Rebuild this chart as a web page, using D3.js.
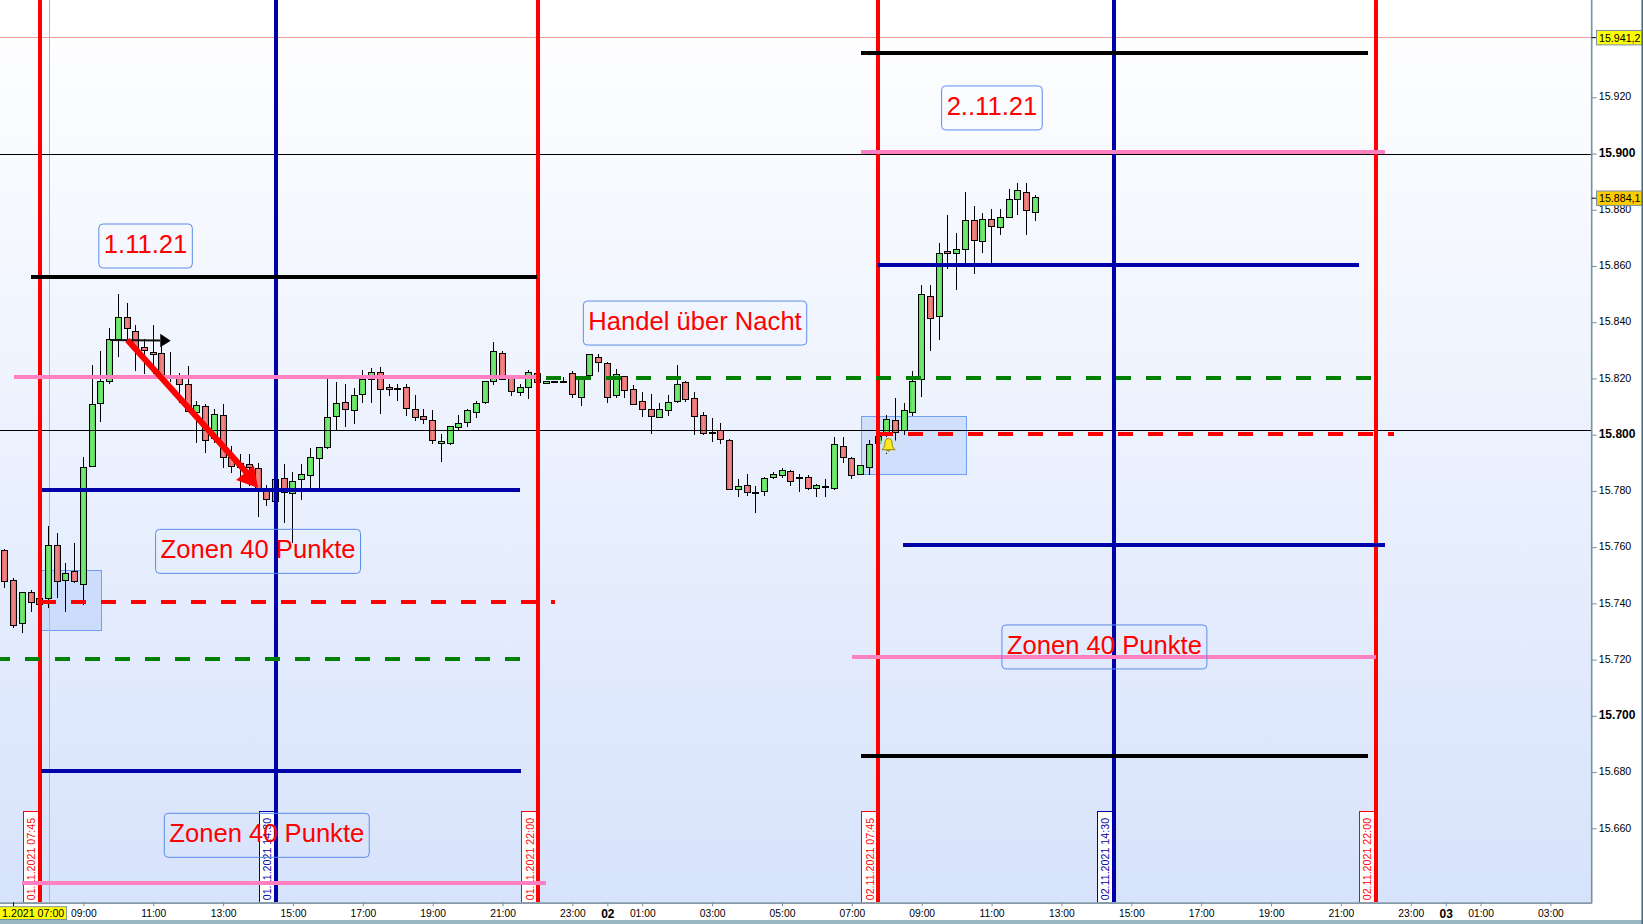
<!DOCTYPE html>
<html>
<head>
<meta charset="utf-8">
<title>FDAX 15 Minuten</title>
<script src="https://cdn.jsdelivr.net/npm/d3@7"></script>
<style>
html,body{margin:0;padding:0;background:#fff;overflow:hidden}
text{font-family:"Liberation Sans",Arial,sans-serif}
</style>
</head>
<body>
<svg id="c" width="1643" height="924"></svg>
<script>
// ---- data: 15-minute candles, first bar 01.11.2021 06:45 ----
const firstBarHour = 6.75;
const barHours = 0.25;
const opens = [15758.9,15748.2,15732.9,15743.9,15741.8,15741.8,15760.6,15748.2,15751.4,15746.8,15788.7,15811.1,15819.0,15833.9,15841.7,15836.7,15831.0,15829.3,15828.9,15820.1,15820.0,15817.9,15807.9,15810.1,15798.7,15806.9,15791.9,15788.4,15789.4,15788.0,15780.3,15776.3,15784.5,15779.1,
15784.1,15785.6,15791.6,15795.4,15806.5,15811.5,15808.7,15814.4,15819.7,15822.2,15816.9,15816.5,15816.9,15809.0,15806.5,15805.1,15796.9,15796.9,15802.6,15804.4,15808.0,15811.5,15819.0,15828.9,15820.6,15815.1,15816.9,15821.8,15818.3,15819.0,
15818.9,15821.8,15813.3,15821.1,15827.5,15825.3,15814.0,15820.7,15816.1,15811.8,15809.0,15806.1,15808.6,15811.8,15818.6,15812.9,15806.9,15800.9,15801.5,15798.0,15780.5,15782.0,15779.5,15779.8,15784.8,15785.5,15786.9,15784.8,15784.8,15780.9,15781.6,
15780.9,15795.8,15791.6,15785.9,15788.4,15796.7,15800.5,15805.1,15801.5,15807.9,15819.7,15849.2,15842.1,15865.2,15864.5,15865.9,15876.2,15868.7,15876.6,15873.7,15877.3,15883.7,15886.2,15879.0];
const highs = [15759.2,15748.9,15743.9,15744.8,15741.8,15767.5,15764.9,15754.2,15761.3,15791.9,15824.7,15829.6,15837.8,15849.9,15847.0,15838.9,15833.9,15838.9,15833.7,15829.3,15821.8,15824.3,15811.9,15810.8,15809.0,15810.8,15796.0,15793.3,15793.1,15789.8,15782.1,15784.5,15789.6,15786.7,
15789.5,15795.2,15795.5,15819.7,15818.8,15817.9,15816.5,15823.0,15823.6,15824.1,15817.9,15817.9,15817.9,15814.1,15809.1,15808.8,15800.1,15803.0,15806.9,15809.0,15811.9,15819.0,15832.9,15829.7,15821.0,15817.9,15822.9,15821.8,15819.0,15819.0,
15820.4,15822.5,15820.6,15828.5,15828.7,15825.7,15823.2,15820.7,15817.5,15815.0,15814.3,15811.1,15814.0,15824.8,15819.1,15815.0,15807.9,15806.1,15804.0,15798.3,15784.4,15785.9,15781.6,15784.8,15786.6,15788.0,15787.3,15785.9,15785.5,15782.3,15784.1,
15799.0,15799.0,15792.2,15789.1,15798.1,15799.5,15806.9,15812.9,15811.1,15822.5,15853.1,15853.1,15868.0,15878.0,15871.9,15886.2,15881.2,15879.0,15880.1,15880.1,15887.2,15889.4,15889.4,15885.1];
const lows = [15745.4,15731.1,15729.3,15736.8,15739.6,15738.5,15741.8,15736.8,15747.1,15739.3,15788.7,15804.6,15817.9,15827.7,15833.9,15822.7,15821.4,15821.4,15820.4,15818.8,15811.1,15808.3,15796.9,15793.6,15796.9,15788.0,15786.2,15780.9,15781.7,15770.8,15774.6,15776.3,15768.5,15761.3,
15776.6,15780.9,15780.9,15794.9,15801.6,15802.9,15803.8,15811.2,15811.2,15807.5,15813.9,15811.8,15806.8,15804.8,15803.9,15796.8,15790.4,15796.5,15801.6,15802.9,15806.1,15811.0,15817.8,15819.3,15813.9,15813.9,15812.8,15818.6,15818.3,15818.6,
15818.6,15813.1,15810.3,15821.1,15822.4,15811.4,15813.1,15813.1,15810.8,15806.4,15800.2,15806.1,15806.7,15811.4,15811.7,15800.0,15800.0,15797.5,15796.8,15780.5,15777.9,15778.3,15772.2,15778.3,15784.3,15784.7,15781.8,15779.7,15780.4,15777.9,15777.9,
15780.3,15790.0,15784.1,15785.5,15785.5,15796.7,15793.0,15797.5,15799.9,15806.6,15813.5,15829.9,15833.8,15859.0,15851.4,15860.9,15857.2,15864.7,15860.9,15871.1,15877.3,15878.2,15871.1,15876.1];
const closes = [15747.9,15732.2,15743.9,15740.4,15739.6,15760.6,15747.9,15750.7,15747.9,15788.4,15810.8,15819.0,15833.9,15841.7,15837.8,15830.3,15830.0,15828.6,15820.6,15821.1,15817.9,15808.3,15810.4,15798.0,15807.2,15791.9,15788.7,15789.8,15788.4,15780.3,15777.0,15784.1,15779.5,15783.4,
15785.9,15792.0,15795.5,15806.2,15811.2,15809.0,15814.0,15819.7,15822.2,15816.1,15816.1,15816.1,15809.4,15806.2,15805.5,15798.0,15797.7,15803.0,15804.1,15808.7,15811.2,15819.0,15829.7,15819.7,15815.4,15816.9,15822.2,15818.6,15819.0,15818.6,
15818.6,15814.3,15820.6,15828.5,15825.7,15813.3,15821.4,15815.7,15810.8,15809.0,15806.5,15809.0,15811.5,15817.9,15812.5,15806.5,15800.5,15800.7,15798.3,15780.5,15781.6,15779.5,15779.1,15784.4,15785.9,15787.3,15783.4,15784.4,15780.9,15782.0,15781.6,
15796.5,15791.9,15785.5,15789.1,15796.5,15799.5,15805.4,15800.8,15808.6,15818.9,15849.9,15841.3,15864.5,15864.5,15865.9,15876.2,15869.1,15876.6,15874.1,15877.3,15883.7,15886.9,15879.8,15884.4];

// horizontal levels (hours counted from 01.11.2021 00:00)
const levelPrices = [15856.2,15820.6,15780.3,15740.6,15720.2,15680.4,15640.7,15935.9,15900.4,15860.3,15820.3,15800.1,15760.6,15720.9,15685.7];
const levelStarts = [7.5,7.01,7.81,7.78,6.47,7.79,7.24,31.26,31.26,31.75,22.24,31.75,32.47,31.0,31.26];
const levelEnds   = [21.98,21.96,21.5,22.5,21.53,21.53,22.24,45.78,46.27,45.52,45.92,46.52,46.27,46.0,45.78];
const levelKinds  = ["black","pink","blue","redDash","greenDash","blue","pink","black","pink","blue","greenDash","redDash","blue","pink","black"];

const sessionHours  = [7.75,14.5,22.02,31.75,38.5,46];
const sessionLabels = ["01.11.2021 07:45","01.11.2021 14:30","01.11.2021 22:00","02.11.2021 07:45","02.11.2021 14:30","02.11.2021 22:00"];
const sessionKinds  = ["red","blue","red","red","blue","red"];

const zoneHourStart = [7.81,31.27];
const zoneHourEnd   = [9.51,34.29];
const zoneTop       = [15751.8,15806.5];
const zoneBottom    = [15730.5,15785.9];

const noteTexts = ["1.11.21","Zonen 40 Punkte","Zonen 40 Punkte","Handel über Nacht","2..11.21","Zonen 40 Punkte"];
const noteHours = [10.78,14.0,14.25,26.51,35.01,38.23];
const notePrices = [15867.1,15758.5,15657.5,15839.7,15916.2,15724.5];

const xTickHours = [9,11,13,15,17,19,21,23,24,25,27,29,31,33,35,37,39,41,43,45,47,48,49,51];
const yTickValues = [15660,15680,15700,15720,15740,15760,15780,15800,15820,15840,15860,15880,15900,15920];
const yBoldValues = [15700,15800,15900];
const thinLevels = [15899.7,15801.6];
const tagPrices = [15941.2,15884.1];
const tagTexts = ["15.941,2","15.884,1"];
const tagFills = ["#ffff00","#ffcc00"];

// ---- layout and scales ----
const W = 1643, H = 924, plotR = 1591.7, plotB = 902.3;
const x = d3.scaleLinear().domain([9,52]).range([83.4,83.4+43*34.93]);
const y = d3.scaleLinear().domain([15660,15900]).range([828.3,153.5]);
const nf = d3.formatLocale({decimal:",",thousands:".",grouping:[3],currency:["",""]}).format(",d");

const svg = d3.select("#c");
const defs = svg.append("defs");
const bg = defs.append("linearGradient").attr("id","bg").attr("x1",0).attr("y1",0).attr("x2",0).attr("y2",1);
bg.append("stop").attr("offset",0).attr("stop-color","#ffffff");
bg.append("stop").attr("offset",1).attr("stop-color","#d7e3fc");
[["gUp","#4fd64f","#7cea7c"],["gDn","#e05e5e","#f08c8c"]].forEach(([id,a,b])=>{
  const g = defs.append("linearGradient").attr("id",id).attr("x1",0).attr("y1",0).attr("x2",1).attr("y2",0);
  g.append("stop").attr("offset",0).attr("stop-color",a);
  g.append("stop").attr("offset",.5).attr("stop-color",b);
  g.append("stop").attr("offset",1).attr("stop-color",a);
});
defs.append("clipPath").attr("id","plot").append("rect").attr("width",plotR).attr("height",plotB);

svg.append("rect").attr("width",W).attr("height",H).attr("fill","#fff");
svg.append("rect").attr("width",plotR).attr("height",plotB).attr("fill","url(#bg)");

const plot = svg.append("g").attr("clip-path","url(#plot)");

// zones behind candles
plot.selectAll("rect.zone").data(zoneTop).join("rect").attr("class","zone")
  .attr("x",(d,i)=>x(zoneHourStart[i])).attr("width",(d,i)=>x(zoneHourEnd[i])-x(zoneHourStart[i]))
  .attr("y",d=>y(d)).attr("height",(d,i)=>y(zoneBottom[i])-y(d))
  .attr("fill","#a9c6fa").attr("fill-opacity",.42).attr("stroke","#6f9ff5").attr("stroke-width",1)
  .attr("shape-rendering","crispEdges");

// thin alert lines
plot.append("line").attr("x1",0).attr("x2",plotR).attr("y1",y(tagPrices[0])).attr("y2",y(tagPrices[0]))
  .attr("stroke","#f29c9c").attr("stroke-width",1).attr("shape-rendering","crispEdges");
plot.append("line").attr("x1",x(8.02)).attr("x2",x(8.02)).attr("y1",0).attr("y2",plotB)
  .attr("stroke","#f29c9c").attr("stroke-width",1).attr("shape-rendering","crispEdges");

// candles
const bars = opens.map((o,i)=>({t:firstBarHour+i*barHours,o,h:highs[i],l:lows[i],c:closes[i]}));
const candle = plot.append("g").attr("shape-rendering","crispEdges").selectAll("g").data(bars).join("g");
candle.append("line").attr("x1",d=>x(d.t)).attr("x2",d=>x(d.t))
  .attr("y1",d=>y(d.h)).attr("y2",d=>y(d.l)).attr("stroke","#000").attr("stroke-width",1);
candle.append("rect").attr("x",d=>x(d.t)-3).attr("width",6)
  .attr("y",d=>y(Math.max(d.o,d.c)))
  .attr("height",d=>Math.max(1,y(Math.min(d.o,d.c))-y(Math.max(d.o,d.c))))
  .attr("fill",d=>d.c>=d.o?"url(#gUp)":"url(#gDn)")
  .attr("stroke","#000").attr("stroke-width",1);

// thin black levels
plot.selectAll("line.thin").data(thinLevels).join("line").attr("class","thin")
  .attr("x1",0).attr("x2",plotR).attr("y1",d=>y(d)).attr("y2",d=>y(d))
  .attr("stroke","#000").attr("stroke-width",1).attr("shape-rendering","crispEdges");

// session date tags
const tagG = plot.append("g").selectAll("g").data(sessionHours).join("g");
const sCol = k => k==="red" ? "#ff0000" : "#0000a8";
tagG.append("rect").attr("x",d=>x(d)-16.5).attr("y",811).attr("width",16.5).attr("height",plotB-811)
  .attr("fill","#fff").attr("stroke",(d,i)=>sCol(sessionKinds[i])).attr("stroke-width",1)
  .attr("shape-rendering","crispEdges");
tagG.append("text").attr("transform",d=>`translate(${x(d)-4.5},${plotB-2}) rotate(-90)`)
  .attr("font-size",10.7).attr("fill",(d,i)=>sCol(sessionKinds[i]))
  .text((d,i)=>sessionLabels[i]);

// black arrow under red arrow
const arrowBlack = [[9.76,15833.7],[11.2,15833.5]];
const arrowRed = [[10.26,15833.7],[13.85,15784.1]];
plot.append("line").attr("x1",x(arrowBlack[0][0])).attr("y1",y(arrowBlack[0][1]))
  .attr("x2",x(arrowBlack[1][0])).attr("y2",y(arrowBlack[1][1])).attr("stroke","#111").attr("stroke-width",2);
plot.append("path").attr("d",`M${x(11.5)},${y(15833.4)}L${x(11.2)},${y(15833.5)-6.7}L${x(11.2)},${y(15833.5)+6.7}Z`).attr("fill","#000");

// vertical session lines
plot.selectAll("line.sess").data(sessionHours).join("line").attr("class","sess")
  .attr("x1",d=>x(d)).attr("x2",d=>x(d)).attr("y1",0).attr("y2",plotB)
  .attr("stroke",(d,i)=>sCol(sessionKinds[i])).attr("stroke-width",4)
  .attr("shape-rendering","crispEdges");

// levels
const lvlStyle = {black:["#000",null],pink:["#ff80c0",null],blue:["#0000a8",null],redDash:["#ff0000","15 15"],greenDash:["#008000","15 15"]};
plot.selectAll("line.lvl").data(levelPrices).join("line").attr("class","lvl")
  .attr("x1",(d,i)=>x(levelStarts[i])).attr("x2",(d,i)=>x(levelEnds[i]))
  .attr("y1",d=>y(d)).attr("y2",d=>y(d))
  .attr("stroke",(d,i)=>lvlStyle[levelKinds[i]][0])
  .attr("stroke-dasharray",(d,i)=>lvlStyle[levelKinds[i]][1])
  .attr("stroke-width",4).attr("shape-rendering","crispEdges");

// red arrow
plot.append("line").attr("x1",x(arrowRed[0][0])).attr("y1",y(arrowRed[0][1]))
  .attr("x2",x(arrowRed[1][0])).attr("y2",y(arrowRed[1][1])).attr("stroke","#ff0000").attr("stroke-width",6);
plot.append("path").attr("d",`M${x(14)},${y(15781)}L${x(13.37)},${y(15783.9)}L${x(13.88)},${y(15789)}Z`).attr("fill","#ff0000");

// bell
const bell = plot.append("g").attr("transform",`translate(${x(32.05)},${y(15796.3)})`);
bell.append("circle").attr("r",8.5).attr("fill","#d3e4e4").attr("fill-opacity",.85);
bell.append("path").attr("d","M0,-6.5C-3,-6.5 -3.6,-4 -3.6,-1C-3.6,1.6 -5,3 -6.6,4.6L6.6,4.6C5,3 3.6,1.6 3.6,-1C3.6,-4 3,-6.5 0,-6.5Z")
  .attr("fill","#ffe81a").attr("stroke","#8c7c10").attr("stroke-width",.9);
bell.append("path").attr("d","M-2,5.2L2,5.2L0,7Z").attr("fill","#8c7c10");

// notes
const noteG = plot.append("g").selectAll("g").data(noteTexts).join("g")
  .attr("transform",(d,i)=>`translate(${x(noteHours[i])},${y(notePrices[i])})`);
noteG.append("text").attr("text-anchor","middle").attr("dy",".27em")
  .attr("font-size",25.6).attr("fill","#ff0000").text(d=>d);
noteG.each(function(){
  const t = d3.select(this).select("text").node().getBBox();
  d3.select(this).insert("rect","text")
    .attr("x",t.x-5).attr("width",t.width+10).attr("y",-22).attr("height",44).attr("rx",4)
    .attr("fill","none").attr("stroke","#5c8ce8").attr("stroke-width",1);
});

// frame
svg.append("rect").attr("x",0).attr("y",plotB).attr("width",plotR).attr("height",1.6).attr("fill","#7890a0");
svg.append("rect").attr("x",plotR-.8).attr("y",0).attr("width",1.6).attr("height",plotB+1).attr("fill","#7890a0");
svg.append("rect").attr("x",0).attr("y",920).attr("width",W).attr("height",4).attr("fill","#9ab6c0");
svg.append("rect").attr("x",W-1.5).attr("y",0).attr("width",1.5).attr("height",H).attr("fill","#47667a");

// axes
const yAxis = svg.append("g").attr("transform",`translate(${plotR},0)`)
  .call(d3.axisRight(y).tickValues(yTickValues).tickSize(5).tickPadding(2).tickFormat(nf));
yAxis.select(".domain").remove();
yAxis.selectAll("line").attr("stroke","#7890a0");
yAxis.selectAll("text").attr("fill","#000").attr("y",-0.7)
  .attr("font-size",d=>yBoldValues.includes(d)?12:10.67)
  .attr("font-weight",d=>yBoldValues.includes(d)?"bold":"normal")
  .attr("font-family",'"Liberation Sans",Arial,sans-serif');

const xFmt = h => h===24?"02":h===48?"03":String(h%24).padStart(2,"0")+":00";
const xAxis = svg.append("g").attr("transform",`translate(0,${plotB})`)
  .call(d3.axisBottom(x).tickValues(xTickHours).tickSize(4).tickPadding(3).tickFormat(xFmt));
xAxis.select(".domain").remove();
xAxis.selectAll("line").attr("stroke","#7890a0");
xAxis.selectAll("text").attr("fill","#000")
  .attr("font-size",d=>(d===24||d===48)?12:10.3)
  .attr("font-weight",d=>(d===24||d===48)?"bold":"normal")
  .attr("font-family",'"Liberation Sans",Arial,sans-serif');

// cursor label on time axis
svg.append("rect").attr("x",-2).attr("y",906.7).attr("width",68.6).attr("height",12.8)
  .attr("fill","#ffff00").attr("stroke","#7890a0").attr("stroke-width",1);
svg.append("text").attr("x",64.3).attr("y",917.3).attr("text-anchor","end").attr("font-size",10.67)
  .attr("fill","#000").text("1.2021 07:00");
svg.append("line").attr("x1",x(7)).attr("x2",x(7)).attr("y1",plotB).attr("y2",906).attr("stroke","#000");

// price tags
const pt = svg.append("g").selectAll("g").data(tagPrices).join("g")
  .attr("transform",d=>`translate(0,${y(d)})`);
pt.append("line").attr("x1",plotR).attr("x2",1597).attr("stroke","#000").attr("stroke-width",1);
pt.append("rect").attr("x",1596.5).attr("y",-7.2).attr("width",45).attr("height",14.4)
  .attr("fill",(d,i)=>tagFills[i]).attr("stroke","#7890a0").attr("stroke-width",1);
pt.append("text").attr("x",1599).attr("dy",".36em").attr("font-size",10.67).attr("fill","#000").text((d,i)=>tagTexts[i]);
</script>
</body>
</html>
